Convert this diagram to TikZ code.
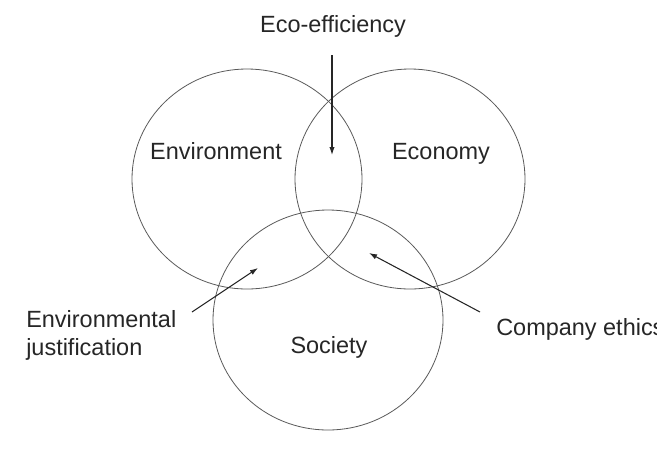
\documentclass[tikz,border=0pt]{standalone}
\usepackage{fontspec}
\setmainfont{Liberation Sans}
\usetikzlibrary{arrows.meta, shapes.geometric}

\begin{document}
\begin{tikzpicture}[
  x=0.75pt, y=-0.75pt,
  set/.style={
    ellipse, draw=black!65, line width=0.6pt,
    minimum width=172.5pt, minimum height=165pt, inner sep=0pt
  },
  lbl/.style={
    inner sep=0pt, text=black!85,
    font=\fontsize{17.6}{21}\selectfont
  },
  arr/.style={
    draw=black!85, line width=0.8pt,
    -{Latex[length=6pt,width=4pt]}
  }
]
  \clip (0,0) rectangle (657,455);
  \useasboundingbox (0,0) rectangle (657,455);
  % the three sets
  \foreach \x/\y/\nm in {247/179/env,410/179/econ,328/320/soc} {
    \node[set] (\nm) at (\x,\y){};
  }
  \node[lbl, anchor=base] (envTxt) at (216,159){Environment};
  \node[lbl, anchor=base] (econTxt) at (441,159){Economy};
  \node[lbl, anchor=base] (socTxt) at (329,353){Society};
  % pointers into the overlaps
  \node[lbl, anchor=base] (effTxt) at (333,32){Eco-efficiency};
  \node[lbl, anchor=base west, align=left] (justTxt) at (26,355){Environmental\\justification};
  \node[lbl, anchor=base west] (ethTxt) at (496,335){Company ethics};
  \coordinate (effTail) at (332,55);
  \coordinate (effTip) at (332,155);
  \coordinate (justTail) at (192,312);
  \coordinate (justTip) at (258,268);
  \coordinate (ethTail) at (480,312);
  \coordinate (ethTip) at (369,253);
  \draw[arr] (effTail)--(effTip);
  \draw[arr] (justTail)--(justTip);
  \draw[arr] (ethTail)--(ethTip);
\end{tikzpicture}
\end{document}
